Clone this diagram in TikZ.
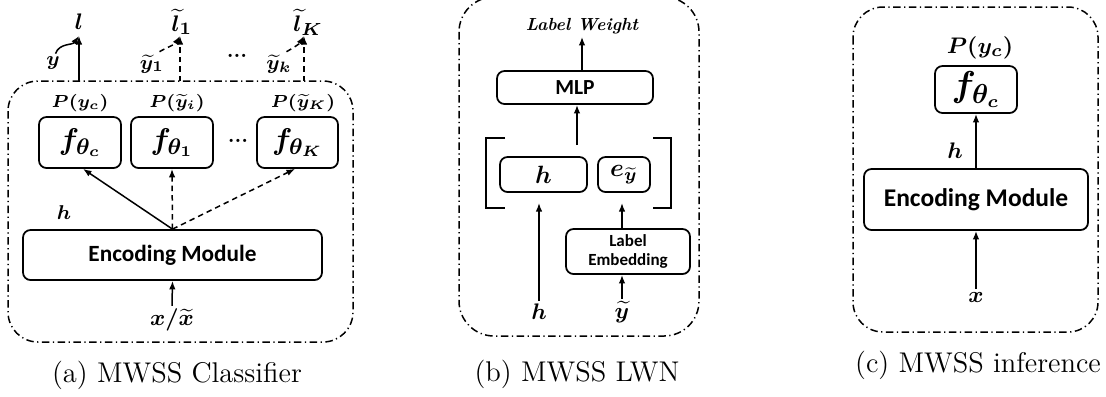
\documentclass[tikz,border=0pt]{standalone}
\usepackage{amsmath}
\usepackage{fontspec}
\newfontfamily\cbfont{Carlito}
\usetikzlibrary{arrows.meta}
\tikzset{
  box/.style={draw, rounded corners=3pt, line width=0.7pt, inner sep=0pt, align=center},
  frame/.style={draw, line width=0.6pt, dash pattern=on 3pt off 1.4pt on 0.5pt off 1.4pt},
  arr/.style={-{Latex[length=3.4pt,width=2.6pt]}, line width=0.6pt},
  darr/.style={arr, dash pattern=on 2.2pt off 1.6pt},
  mlab/.style={inner sep=1pt, font=\boldmath\fontsize{7.2}{8}\selectfont},
  biglab/.style={inner sep=1pt, font=\boldmath\fontsize{9.5}{10}\selectfont},
  sftext/.style={font=\cbfont\bfseries\fontsize{#1}{#1}\selectfont},
  captext/.style={inner sep=0pt, anchor=base, font=\fontsize{11.4}{14}\selectfont},
}
\begin{document}
\begin{tikzpicture}[x=0.4pt,y=-0.4pt]
\useasboundingbox (0,0) rectangle (1106,396);

% ---------- (a) classifier ----------
\draw[frame, rounded corners=12pt] (8,81) rectangle (353,342);
\node[box, minimum width=32.8pt, minimum height=20.4pt, font=\boldmath\fontsize{13}{14}\selectfont] (fc) at (80,142.5) {$f_{\theta_c}$};
\node[box, minimum width=32.8pt, minimum height=20.4pt, font=\boldmath\fontsize{13}{14}\selectfont] (f1) at (172,142.5) {$f_{\theta_1}$};
\node[box, minimum width=32.4pt, minimum height=20.4pt, font=\boldmath\fontsize{13}{14}\selectfont] (fK) at (297.5,142.5) {$f_{\theta_K}$};
\node[mlab] (pc) at (80,103) {$P(y_c)$};
\node[mlab] (pi) at (177,103) {$P(\widetilde{y}_i)$};
\node[mlab] (pK) at (303,103) {$P(\widetilde{y}_K)$};
\node[inner sep=0pt, font=\bfseries\fontsize{8}{8}\selectfont] (dm) at (238,141) {...};
\node[box, minimum width=119.6pt, minimum height=20pt, sftext=9.3] (enc) at (172.5,255) {Encoding Module};
\node[mlab, font=\boldmath\fontsize{8.5}{9}\selectfont] (ha) at (64,213) {$h$};
\node[biglab] (xa) at (172,320) {$x/\widetilde{x}$};
\draw[arr] (xa.north) -- (enc.south);
\draw[arr] (enc.north) -- ([xshift=1.2pt]fc.south);
\draw[darr] (enc.north) -- (f1.south);
\draw[darr] (enc.north) -- ([xshift=-1pt]fK.south);

% outputs above the frame
\node[biglab] (l) at (79,22) {$l$};
\node[biglab] (l1) at (182,22) {$\widetilde{l}_1$};
\node[biglab] (lK) at (308,22) {$\widetilde{l}_K$};
\coordinate (t0) at (79,81);
\coordinate (t1) at (180,81);
\coordinate (tK) at (304,81);
\draw[arr] (t0) -- (79,36) coordinate (l0end);
\draw[darr] (t1) -- (180,36) coordinate (l1end);
\draw[darr] (tK) -- (304,36) coordinate (lKend);
\node[biglab, font=\boldmath\fontsize{8.5}{9}\selectfont] (ya) at (53,63) {$y$};
\node[mlab, font=\boldmath\fontsize{8.5}{9}\selectfont] (y1) at (152,64) {$\widetilde{y}_1$};
\node[mlab, font=\boldmath\fontsize{8.5}{9}\selectfont] (yk) at (279,64) {$\widetilde{y}_k$};
\draw[arr] ([xshift=1pt]ya.north) to[out=70,in=235] (l0end);
\draw[darr] ([xshift=3pt]y1.north) to[out=30,in=240] (l1end);
\draw[darr] ([xshift=3pt]yk.north) to[out=30,in=240] (lKend);
\node[inner sep=0pt, font=\bfseries\fontsize{8}{8}\selectfont] (dt) at (237,56) {...};
\node[captext] (capa) at (177,382) {(a) MWSS Classifier};

% ---------- (b) label weighting network ----------
\draw[frame, rounded corners=14pt] (459,-3) rectangle (699,336);
\node[inner sep=1pt, font=\bfseries\itshape\fontsize{7}{8}\selectfont] (lw) at (582,26) {Label Weight};
\node[box, minimum width=62.4pt, minimum height=13.2pt, sftext=8.6] (mlp) at (575,87.5) {MLP};
\draw[arr] (mlp.north -| lw.south) -- (lw.south);
\draw[line width=0.7pt] (505,138) -- (486,138) -- (486,208) -- (505,208);
\draw[line width=0.7pt] (653,138) -- (671,138) -- (671,208) -- (653,208);
\coordinate (cat) at (577,145);
\draw[arr] (cat) -- (cat |- mlp.south);
\node[box, minimum width=34.8pt, minimum height=14pt, font=\boldmath\fontsize{10}{11}\selectfont] (hb) at (543.5,174.5) {$h$};
\node[box, minimum width=20.8pt, minimum height=14pt, font=\boldmath\fontsize{10}{11}\selectfont] (eb) at (624,174.5) {$e_{\widetilde{y}}$};
\node[box, minimum width=49.6pt, minimum height=18pt, sftext=6.8, align=center] (lemb) at (628,251.5) {Label\\[1pt]Embedding};
\node[biglab] (hin) at (539,312) {$h$};
\node[biglab] (yin) at (622,312) {$\widetilde{y}$};
\coordinate (hcat) at (539,203);
\coordinate (ecat) at (622,203);
\draw[arr] (hin.north) -- (hcat);
\draw[arr] (yin.north) -- (yin.north |- lemb.south);
\draw[arr] (ecat |- lemb.north) -- (ecat);
\node[captext] (capb) at (577,381) {(b) MWSS LWN};

% ---------- (c) inference ----------
\draw[frame, rounded corners=12pt] (853,7) rectangle (1098,332);
\node[inner sep=1pt, font=\boldmath\fontsize{9.5}{10}\selectfont] (pc2) at (980,48) {$P(y_c)$};
\node[box, minimum width=32.8pt, minimum height=18.8pt, font=\boldmath\fontsize{15}{16}\selectfont] (fc2) at (976,89.5) {$f_{\theta_c}$};
\node[box, minimum width=89.6pt, minimum height=24.4pt, sftext=10.2] (enc2) at (976,199.5) {Encoding Module};
\node[biglab] (hc) at (955,151) {$h$};
\node[biglab] (xc) at (976,297) {$x$};
\draw[arr] (enc2.north) -- (fc2.south);
\draw[arr] (xc.north) -- (enc2.south);
\node[captext] (capc) at (978,372) {(c) MWSS inference};
\end{tikzpicture}
\end{document}
